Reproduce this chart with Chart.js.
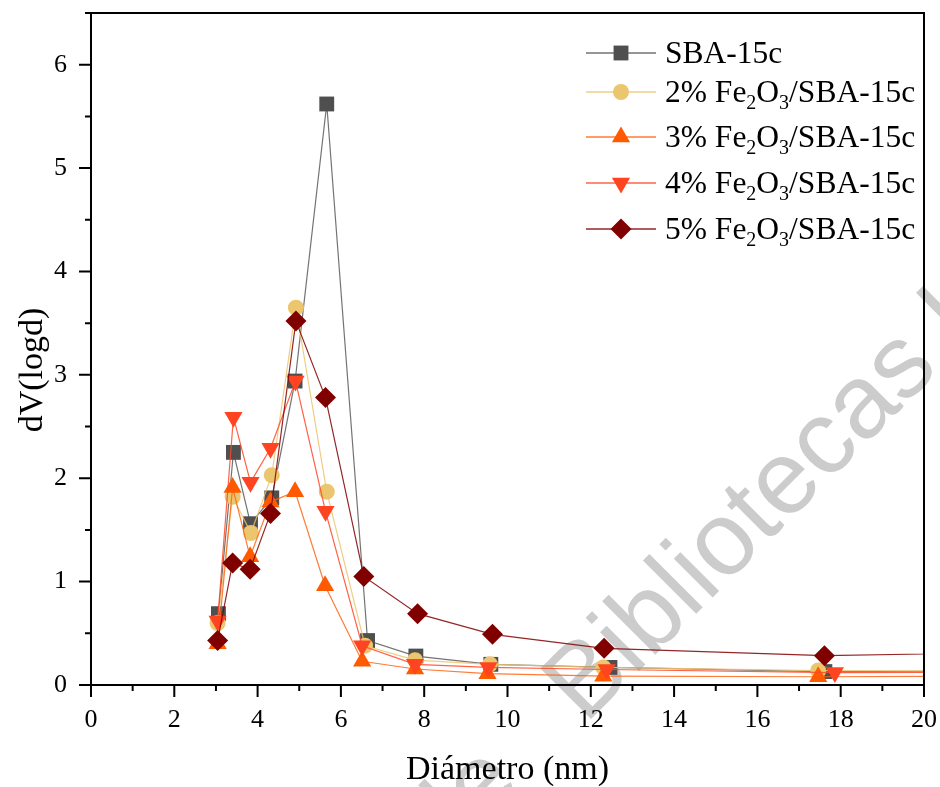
<!DOCTYPE html>
<html>
<head>
<meta charset="utf-8">
<script src="https://cdn.jsdelivr.net/npm/chart.js@4.4.0/dist/chart.umd.min.js"></script>
<style>
  html, body { margin: 0; padding: 0; background: #fff; }
  #wrap { width: 940px; height: 787px; position: relative; }
</style>
</head>
<body>
<div id="wrap"><canvas id="poreChart"></canvas></div>
<script>
// series names (subscripts kept as unicode, legend plugin lowers them)
const seriesNames = ['SBA-15c', '2% Fe₂O₃/SBA-15c', '3% Fe₂O₃/SBA-15c', '4% Fe₂O₃/SBA-15c', '5% Fe₂O₃/SBA-15c'];

// pore diameter (nm) and dV(logd); last point lies past the axis end
const sbaX = [3.06, 3.42, 3.83, 4.34, 4.90, 5.66, 6.64, 7.80, 9.60, 12.46, 17.62, 26];
const sbaY = [0.69, 2.25, 1.56, 1.81, 2.94, 5.62, 0.43, 0.28, 0.20, 0.17, 0.13, 0.14];
const fe2X = [3.04, 3.40, 3.84, 4.34, 4.92, 5.66, 6.58, 7.78, 9.58, 12.30, 17.46, 26];
const fe2Y = [0.60, 1.82, 1.47, 2.03, 3.65, 1.87, 0.38, 0.24, 0.20, 0.17, 0.14, 0.13];
const fe3X = [3.04, 3.40, 3.82, 4.31, 4.90, 5.62, 6.51, 7.78, 9.52, 12.30, 17.46, 26];
const fe3Y = [0.40, 1.91, 1.24, 1.77, 1.87, 0.96, 0.23, 0.155, 0.11, 0.085, 0.08, 0.09];
const fe4X = [3.04, 3.42, 3.83, 4.31, 4.91, 5.63, 6.51, 7.78, 9.54, 12.38, 17.86, 26];
const fe4Y = [0.62, 2.59, 1.96, 2.29, 2.94, 1.68, 0.38, 0.20, 0.17, 0.15, 0.12, 0.13];
const fe5X = [3.04, 3.40, 3.82, 4.31, 4.92, 5.63, 6.55, 7.84, 9.64, 12.32, 17.61, 26];
const fe5Y = [0.43, 1.18, 1.12, 1.66, 3.52, 2.78, 1.05, 0.69, 0.49, 0.355, 0.284, 0.34];

const xTicks = [0, 2, 4, 6, 8, 10, 12, 14, 16, 18, 20];
const yTicks = [0, 1, 2, 3, 4, 5, 6];

const looks = [
  { fill: '#4f4f4f', line: 'rgba(80,80,80,0.8)',    shape: 'rect',     r: 10.5, rot: 0 },
  { fill: '#ecc66e', line: 'rgba(236,198,110,0.85)', shape: 'circle',   r: 8,    rot: 0 },
  { fill: '#ff5a00', line: 'rgba(255,100,20,0.85)',  shape: 'triangle', r: 10.5, rot: 0 },
  { fill: '#ff4422', line: 'rgba(255,70,40,0.85)',   shape: 'triangle', r: 10.5, rot: 180 },
  { fill: '#800000', line: 'rgba(128,0,0,0.85)',     shape: 'rectRot',  r: 10.5, rot: 0 }
];

const allX = [sbaX, fe2X, fe3X, fe4X, fe5X];
const allY = [sbaY, fe2Y, fe3Y, fe4Y, fe5Y];

const datasets = seriesNames.map((name, i) => ({
  label: name,
  data: allX[i].map((x, k) => ({ x: x, y: allY[i][k] })),
  borderColor: looks[i].line,
  backgroundColor: looks[i].fill,
  borderWidth: 1.2,
  pointStyle: looks[i].shape,
  pointRotation: looks[i].rot,
  pointRadius: looks[i].r,
  pointHoverRadius: looks[i].r,
  pointBackgroundColor: looks[i].fill,
  pointBorderWidth: 0,
  tension: 0,
  order: 5 - i
}));

const serif = "'Liberation Serif', 'Times New Roman', serif";

// light watermark behind everything
const watermark = {
  id: 'watermark',
  beforeDraw(chart) {
    const ctx = chart.ctx;
    ctx.save();
    ctx.fillStyle = '#fff';
    ctx.fillRect(0, 0, chart.width, chart.height);
    ctx.font = "104px 'Liberation Sans', Arial, sans-serif";
    const pre = ctx.measureText('de   ').width;
    const a = -Math.PI / 4;
    ctx.translate(585 - pre * Math.cos(a), 725 - pre * Math.sin(a));
    ctx.rotate(a);
    ctx.fillStyle = '#cccccc';
    ctx.textBaseline = 'alphabetic';
    ctx.fillText('de   Bibliotecas U', 0, 0);
    ctx.restore();
  }
};

// frame, major/minor ticks and the y title
const frameTicks = {
  id: 'frameTicks',
  afterDraw(chart) {
    const { ctx, chartArea: ca, scales } = chart;
    ctx.save();
    ctx.strokeStyle = '#000';
    ctx.lineWidth = 2;
    ctx.strokeRect(ca.left, ca.top, ca.right - ca.left, ca.bottom - ca.top);
    ctx.beginPath();
    for (let v = 0; v <= 20; v += 1) {
      const px = scales.x.getPixelForValue(v);
      const len = v % 2 === 0 ? 12 : 6;
      ctx.moveTo(px, ca.bottom);
      ctx.lineTo(px, ca.bottom + len);
    }
    for (let v = 0; v <= 6.5; v += 0.5) {
      const py = scales.y.getPixelForValue(v);
      const len = Number.isInteger(v) ? 12 : 6;
      ctx.moveTo(ca.left, py);
      ctx.lineTo(ca.left - len, py);
    }
    ctx.stroke();

    ctx.translate(33, 370);
    ctx.rotate(-Math.PI / 2);
    ctx.fillStyle = '#000';
    ctx.font = '34px ' + serif;
    ctx.textAlign = 'center';
    ctx.textBaseline = 'middle';
    ctx.fillText('dV(logd)', 0, 0);
    ctx.restore();
  }
};

// legend with lowered subscripts
const subLegend = {
  id: 'subLegend',
  afterDraw(chart) {
    const ctx = chart.ctx;
    const rows = [53, 92, 137, 183, 229];
    ctx.save();
    ctx.textBaseline = 'alphabetic';
    chart.data.datasets.forEach((ds, i) => {
      const y = rows[i];
      const lk = looks[i];
      ctx.strokeStyle = lk.line;
      ctx.lineWidth = 1.5;
      ctx.beginPath();
      ctx.moveTo(586, y);
      ctx.lineTo(656, y);
      ctx.stroke();
      ctx.fillStyle = lk.fill;
      Chart.helpers.drawPoint(ctx, { pointStyle: lk.shape, radius: lk.r, rotation: lk.rot, borderWidth: 0 }, 621, y);
      ctx.fillStyle = '#000';
      let x = 665;
      const base = y + 10;
      for (const ch of ds.label) {
        const sub = '₀₁₂₃₄₅₆₇₈₉'.indexOf(ch);
        if (sub >= 0) {
          ctx.font = '20px ' + serif;
          ctx.fillText(String(sub), x, base + 7);
          x += ctx.measureText(String(sub)).width;
        } else {
          ctx.font = '31.5px ' + serif;
          ctx.fillText(ch, x, base);
          x += ctx.measureText(ch).width;
        }
      }
    });
    ctx.restore();
  }
};

new Chart(document.getElementById('poreChart'), {
  type: 'line',
  data: { datasets: datasets },
  options: {
    responsive: true,
    maintainAspectRatio: false,
    animation: false,
    layout: { padding: { top: 13, right: 16, bottom: 0, left: 0 } },
    plugins: {
      legend: { display: false },
      tooltip: { enabled: false }
    },
    scales: {
      x: {
        type: 'linear',
        min: 0,
        max: 20,
        afterFit: s => { s.height = 102; s.paddingLeft = 0; s.paddingRight = 0; },
        afterBuildTicks: s => { s.ticks = xTicks.map(v => ({ value: v })); },
        grid: { display: false, drawTicks: false },
        border: { display: false },
        ticks: { autoSkip: false, maxRotation: 0, padding: 20, color: '#000', font: { family: serif, size: 26 } },
        title: { display: true, text: 'Diámetro (nm)', color: '#000', font: { family: serif, size: 34, lineHeight: 1.0 }, padding: 0 }
      },
      y: {
        type: 'linear',
        min: 0,
        max: 6.5,
        afterFit: s => { s.width = 91; s.paddingTop = 0; s.paddingBottom = 0; },
        afterBuildTicks: s => { s.ticks = yTicks.map(v => ({ value: v })); },
        grid: { display: false, drawTicks: false },
        border: { display: false },
        ticks: { padding: 24, color: '#000', font: { family: serif, size: 26 } },
        title: { display: false }
      }
    }
  },
  plugins: [watermark, frameTicks, subLegend]
});
</script>
</body>
</html>
